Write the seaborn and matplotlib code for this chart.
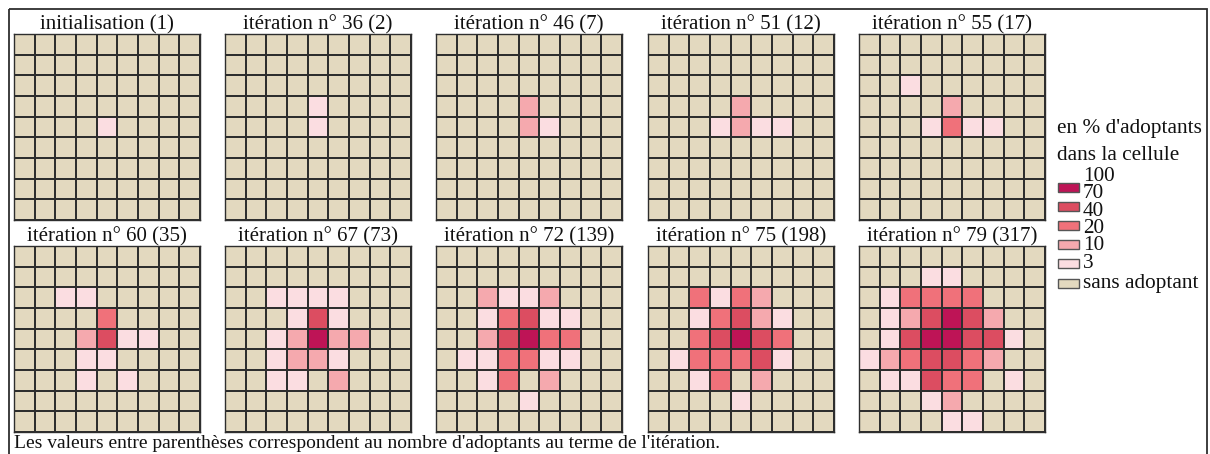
import numpy as np
import seaborn as sns
import matplotlib.pyplot as plt
from matplotlib.colors import ListedColormap
from matplotlib.patches import Rectangle

# class codes per cell: 0 = sans adoptant, 1 = 3-10 %, 2 = 10-20 %, 3 = 20-40 %, 4 = 40-70 %, 5 = 70-100 %
grid_init = ["000000000", "000000000", "000000000", "000000000", "000010000",
             "000000000", "000000000", "000000000", "000000000"]
grid_36 = ["000000000", "000000000", "000000000", "000010000", "000010000",
           "000000000", "000000000", "000000000", "000000000"]
grid_46 = ["000000000", "000000000", "000000000", "000020000", "000021000",
           "000000000", "000000000", "000000000", "000000000"]
grid_51 = ["000000000", "000000000", "000000000", "000020000", "000121100",
           "000000000", "000000000", "000000000", "000000000"]
grid_55 = ["000000000", "000000000", "001000000", "000020000", "000131100",
           "000000000", "000000000", "000000000", "000000000"]
grid_60 = ["000000000", "000000000", "001100000", "000030000", "000241100",
           "000110000", "000101000", "000000000", "000000000"]
grid_67 = ["000000000", "000000000", "001111000", "000141000", "001252200",
           "001221000", "001102000", "000000000", "000000000"]
grid_72 = ["000000000", "000000000", "002112000", "001341100", "002453300",
           "011331100", "001302000", "000010000", "000000000"]
grid_75 = ["000000000", "000000000", "003132000", "001342100", "003454300",
           "013334100", "001302000", "000010000", "000000000"]
grid_79 = ["000000000", "000110000", "013333000", "012454200", "014554410",
           "123443200", "011433010", "000120000", "000011000"]

grids = [grid_init, grid_36, grid_46, grid_51, grid_55,
         grid_60, grid_67, grid_72, grid_75, grid_79]
titles = ["initialisation", "itération n° 36", "itération n° 46", "itération n° 51", "itération n° 55",
          "itération n° 60", "itération n° 67", "itération n° 72", "itération n° 75", "itération n° 79"]
adopters = [1, 2, 7, 12, 17, 35, 73, 139, 198, 317]

class_colors = ["#E3D9BF", "#FBDDE1", "#F5A9AE", "#F0717A", "#DC4D61", "#BE1456"]
legend_bounds = ["100", "70", "40", "20", "10", "3"]

sns.set_theme(style="white")
plt.rcParams["font.family"] = ["Liberation Serif", "DejaVu Serif"]

W, H = 1210, 454
fig = plt.figure(figsize=(W / 100, H / 100), dpi=100)
cmap = ListedColormap(class_colors)
line_col = "#2e2e2e"


def px_axes(x, y, w, h):
    return fig.add_axes([x / W, 1 - (y + h) / H, w / W, h / H])


col_x = [14, 225, 436, 648, 859]
row_y = [34, 246]
size = 186

for i, rows in enumerate(grids):
    data = np.array([[int(c) for c in r] for r in rows])
    ax = px_axes(col_x[i % 5], row_y[i // 5], size, size)
    sns.heatmap(data, cmap=cmap, vmin=-0.5, vmax=5.5, cbar=False,
                linewidths=1.2, linecolor=line_col,
                xticklabels=False, yticklabels=False, ax=ax)
    for sp in ax.spines.values():
        sp.set_visible(True)
        sp.set_color(line_col)
        sp.set_linewidth(1.0)
    ax.set_title(f"{titles[i]} ({adopters[i]})", fontsize=15, pad=3.5, color="#111111")

# overlay in pixel coordinates for frame, legend and note
ov = fig.add_axes([0, 0, 1, 1], zorder=-1)
ov.set_xlim(0, W)
ov.set_ylim(H, 0)
ov.axis("off")
ov.add_patch(Rectangle((8.5, 8.5), 1198, 460, fill=False, edgecolor=line_col, lw=1.3))

ov.text(1057, 128, "en % d'adoptants", fontsize=15.3, va="center", ha="left", color="#111111")
ov.text(1057, 155, "dans la cellule", fontsize=15.3, va="center", ha="left", color="#111111")

patch_y0 = 187
step = 19
for k in range(5):
    cls = 5 - k
    cy = patch_y0 + step * k
    ov.add_patch(Rectangle((1058, cy - 4.5), 21, 9, facecolor=class_colors[cls],
                           edgecolor="#555555", lw=1.0))
for k, lab in enumerate(legend_bounds):
    ov.text(1083, 176.5 + 17.3 * k, lab, fontsize=15.3, va="center", ha="left", color="#111111")
cy = patch_y0 + step * 5 + 1
ov.add_patch(Rectangle((1058, cy - 4.5), 21, 9, facecolor=class_colors[0],
                       edgecolor="#555555", lw=1.0))
ov.text(1083, cy + 0.5, "sans adoptant", fontsize=15.3, va="center", ha="left", color="#111111")

ov.text(14, 444, "Les valeurs entre parenthèses correspondent au nombre d'adoptants au terme de l'itération.",
        fontsize=14, va="center", ha="left", color="#111111")

fig.savefig("out.png", dpi=100)
